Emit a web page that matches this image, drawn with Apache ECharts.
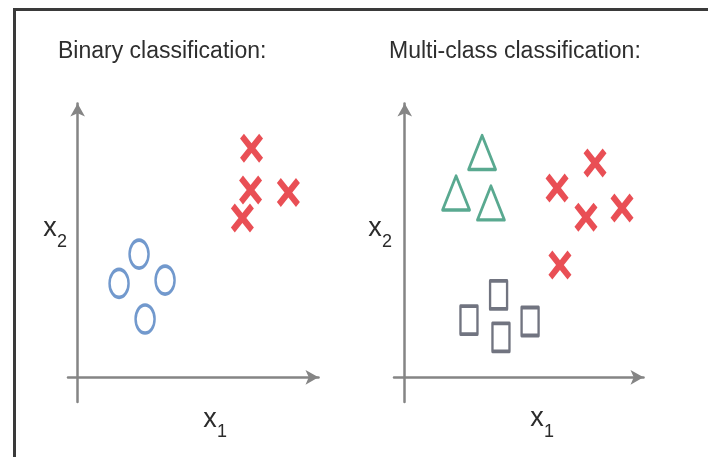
<!DOCTYPE html>
<html>
<head>
<meta charset="utf-8">
<script src="https://cdn.jsdelivr.net/npm/echarts@6/dist/echarts.min.js"></script>
<style>
  html, body { margin: 0; padding: 0; background: #ffffff; }
  #chart { width: 708px; height: 457px; }
</style>
</head>
<body>
<div id="chart"></div>
<script>
// Feature-space points [x1, x2] for each class
const binaryCircles = [[2.55, 4.50], [1.72, 3.43], [3.63, 3.55], [2.80, 2.13]];
const binaryCrosses = [[7.22, 8.37], [7.18, 6.84], [8.75, 6.75], [6.84, 5.82]];

const multiTriangles = [[3.24, 8.21], [2.15, 6.73], [3.61, 6.37]];
const multiCrosses = [[6.38, 6.91], [7.97, 7.83], [9.10, 6.18], [7.59, 5.85], [6.50, 4.10]];
const multiSquares = [[3.93, 3.01], [2.69, 2.09], [4.03, 1.46], [5.25, 2.04]];

const panelTitles = ['Binary classification:', 'Multi-class classification:'];
const axisNameX = 'x';

const FONT = '"Liberation Sans", Arial, sans-serif';
const AXIS_COLOR = '#858585';
const RED = '#e4232a';
const BLUE = '#4f7fc0';
const GREEN = '#2f9374';
const SLATE = '#4d5160';

// A thick "X" marker as a filled outline
const CROSS = 'path://M0,17 L17,0 L50,33 L83,0 L100,17 L67,50 L100,83 L83,100 L50,67 L17,100 L0,83 L33,50 Z';
const ELLIPSE = 'path://M50,0 A50,50 0 1 1 50,100 A50,50 0 1 1 50,0 Z';

function axisPair(xMin) {
  const line = {
    show: true,
    onZero: true,
    symbol: ['none', 'arrow'],
    symbolSize: [11, 13],
    lineStyle: { color: AXIS_COLOR, width: 2.5 }
  };
  return {
    x: {
      type: 'value', min: xMin, max: 10,
      axisLine: line, axisTick: { show: false }, axisLabel: { show: false }, splitLine: { show: false }
    },
    y: {
      type: 'value', min: -0.9, max: 10,
      axisLine: line, axisTick: { show: false }, axisLabel: { show: false }, splitLine: { show: false }
    }
  };
}

const leftAxes = axisPair(-0.4);
const rightAxes = axisPair(-0.45);
leftAxes.x.gridIndex = 0; leftAxes.y.gridIndex = 0;
rightAxes.x.gridIndex = 1; rightAxes.y.gridIndex = 1;

function hollow(color) {
  return { color: 'rgba(0,0,0,0)', borderColor: color, borderWidth: 3, borderJoin: 'round' };
}

function label(cx, cy, sub, subX, subY) {
  return [
    { type: 'text', x: cx, y: cy, z: 10,
      style: { text: axisNameX, fontFamily: FONT, fontSize: 27, fill: '#2b2b2b', align: 'center', verticalAlign: 'middle' } },
    { type: 'text', x: subX, y: subY, z: 10,
      style: { text: sub, fontFamily: FONT, fontSize: 18, fill: '#2b2b2b', align: 'left', verticalAlign: 'middle' } }
  ];
}

const chart = echarts.init(document.getElementById('chart'), null, { renderer: 'canvas' });

chart.setOption({
  backgroundColor: '#ffffff',
  animation: false,
  grid: [
    { left: 68, top: 103.5, width: 250.5, height: 298.5 },
    { left: 394, top: 103.5, width: 249.5, height: 298.5 }
  ],
  xAxis: [leftAxes.x, rightAxes.x],
  yAxis: [leftAxes.y, rightAxes.y],
  series: [
    { name: 'Class A', type: 'scatter', xAxisIndex: 0, yAxisIndex: 0, data: binaryCircles,
      symbol: ELLIPSE, symbolSize: [19, 28], itemStyle: hollow(BLUE) },
    { name: 'Class B', type: 'scatter', xAxisIndex: 0, yAxisIndex: 0, data: binaryCrosses,
      symbol: CROSS, symbolSize: [23, 29], itemStyle: { color: RED } },
    { name: 'Class 1', type: 'scatter', xAxisIndex: 1, yAxisIndex: 1, data: multiTriangles,
      symbol: 'triangle', symbolSize: [27, 34], itemStyle: hollow(GREEN) },
    { name: 'Class 2', type: 'scatter', xAxisIndex: 1, yAxisIndex: 1, data: multiCrosses,
      symbol: CROSS, symbolSize: [23, 29], itemStyle: { color: RED } },
    { name: 'Class 3', type: 'scatter', xAxisIndex: 1, yAxisIndex: 1, data: multiSquares,
      symbol: 'rect', symbolSize: [17, 28], itemStyle: hollow(SLATE) }
  ],
  graphic: [
    // outer frame (open to the right and bottom)
    { type: 'rect', z: 5, shape: { x: 14.5, y: 9.5, width: 720, height: 470 },
      style: { fill: 'none', stroke: '#3a3a3a', lineWidth: 3 } },
    { type: 'text', x: 58, y: 51.5, z: 10,
      style: { text: panelTitles[0], fontFamily: FONT, fontSize: 23, fill: '#2e2e2e', align: 'left', verticalAlign: 'middle' } },
    { type: 'text', x: 389, y: 51.5, z: 10,
      style: { text: panelTitles[1], fontFamily: FONT, fontSize: 23, fill: '#2e2e2e', align: 'left', verticalAlign: 'middle' } },
    ...label(50, 229, '2', 57, 242),
    ...label(375, 229, '2', 382, 242),
    ...label(210, 420, '1', 217, 432),
    ...label(537, 419, '1', 544, 432)
  ]
});
</script>
</body>
</html>
